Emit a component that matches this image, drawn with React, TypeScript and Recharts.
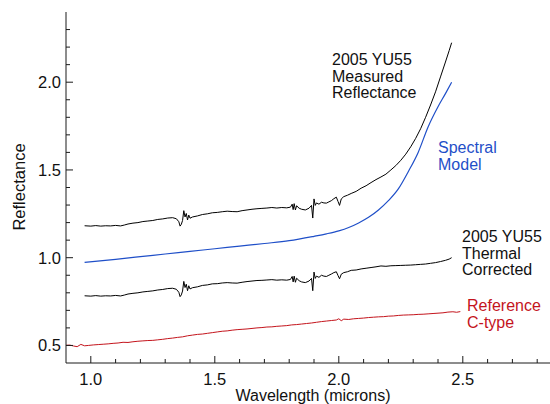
import { Line, LineChart, XAxis, YAxis } from "recharts";

// wavelength (microns) / reflectance
const measWl = [
  0.975, 1.0, 1.02, 1.04, 1.06, 1.08, 1.1, 1.12, 1.135, 1.15, 1.17, 1.19, 1.21, 1.23, 1.25, 1.27, 1.29, 1.31, 1.33,
  1.345, 1.355, 1.36, 1.365, 1.37, 1.375, 1.38, 1.385, 1.39, 1.395, 1.4, 1.41, 1.43, 1.45, 1.47, 1.49, 1.51, 1.53,
  1.55, 1.57, 1.59, 1.61, 1.63, 1.65, 1.67, 1.69, 1.71, 1.73, 1.75, 1.77, 1.79, 1.805, 1.812, 1.816, 1.82, 1.825,
  1.83, 1.84, 1.85, 1.865, 1.88, 1.89, 1.895, 1.9, 1.905, 1.91, 1.92, 1.93, 1.94, 1.95, 1.96, 1.97, 1.98, 1.99,
  1.997, 2.003, 2.01, 2.02, 2.035, 2.05, 2.07, 2.09, 2.11, 2.13, 2.15, 2.17, 2.19, 2.21, 2.23, 2.25, 2.27, 2.29,
  2.31, 2.33, 2.35, 2.37, 2.39, 2.41, 2.43, 2.445, 2.455,
];
const measuredR = [
  1.182, 1.18, 1.183, 1.18, 1.182, 1.181, 1.184, 1.181, 1.186, 1.192, 1.197, 1.2, 1.206, 1.209, 1.212, 1.218, 1.221,
  1.226, 1.228, 1.222, 1.205, 1.18, 1.19, 1.212, 1.268, 1.232, 1.252, 1.215, 1.243, 1.225, 1.232, 1.238, 1.246, 1.25,
  1.256, 1.258, 1.262, 1.265, 1.263, 1.262, 1.268, 1.272, 1.276, 1.279, 1.281, 1.283, 1.286, 1.283, 1.286, 1.284,
  1.288, 1.305, 1.274, 1.308, 1.272, 1.296, 1.282, 1.276, 1.272, 1.282, 1.298, 1.226, 1.335, 1.298, 1.312, 1.305,
  1.316, 1.312, 1.311, 1.318, 1.325, 1.336, 1.345, 1.32, 1.298, 1.335, 1.348, 1.356, 1.366, 1.378, 1.396, 1.41,
  1.428, 1.445, 1.46, 1.476, 1.5, 1.525, 1.555, 1.59, 1.632, 1.68, 1.735, 1.8, 1.87, 1.945, 2.03, 2.115, 2.18, 2.225,
];
const thermalR = [
  0.783, 0.781, 0.784, 0.781, 0.783, 0.782, 0.785, 0.782, 0.787, 0.793, 0.797, 0.8, 0.805, 0.808, 0.811, 0.816, 0.819,
  0.824, 0.826, 0.82, 0.803, 0.778, 0.788, 0.81, 0.865, 0.83, 0.849, 0.812, 0.84, 0.822, 0.829, 0.834, 0.842, 0.845,
  0.851, 0.852, 0.856, 0.858, 0.856, 0.855, 0.86, 0.864, 0.867, 0.87, 0.871, 0.873, 0.875, 0.872, 0.874, 0.872,
  0.876, 0.893, 0.862, 0.895, 0.86, 0.883, 0.869, 0.862, 0.858, 0.867, 0.882, 0.812, 0.918, 0.882, 0.895, 0.888,
  0.9, 0.895, 0.893, 0.9, 0.907, 0.915, 0.92, 0.898, 0.88, 0.906, 0.915, 0.92, 0.928, 0.93, 0.936, 0.94, 0.944,
  0.948, 0.953, 0.951, 0.954, 0.955, 0.956, 0.957, 0.958, 0.96, 0.962, 0.964, 0.968, 0.972, 0.978, 0.985, 0.992, 1.0,
];

const modelWl = [
  0.975, 1.1, 1.2, 1.3, 1.4, 1.5, 1.6, 1.7, 1.8, 1.9, 1.95, 2.0, 2.04, 2.08, 2.12, 2.16, 2.2, 2.24, 2.28, 2.32, 2.36,
  2.4, 2.43, 2.455,
];
const modelR = [
  0.973, 0.991, 1.006, 1.021, 1.036, 1.051, 1.066, 1.081, 1.097, 1.122, 1.136, 1.153, 1.172, 1.198, 1.23, 1.272,
  1.325, 1.392, 1.49, 1.6, 1.745, 1.86, 1.935, 2.0,
];

const refWl = [
  0.9, 0.915, 0.93, 0.945, 0.96, 0.975, 0.99, 1.01, 1.03, 1.05, 1.07, 1.09, 1.11, 1.13, 1.15, 1.17, 1.19, 1.21, 1.23,
  1.25, 1.27, 1.29, 1.31, 1.33, 1.35, 1.37, 1.39, 1.41, 1.43, 1.45, 1.47, 1.49, 1.51, 1.53, 1.55, 1.57, 1.59, 1.61,
  1.63, 1.65, 1.67, 1.69, 1.71, 1.73, 1.75, 1.77, 1.79, 1.81, 1.83, 1.85, 1.87, 1.89, 1.91, 1.93, 1.95, 1.97, 1.99,
  2.0, 2.01, 2.02, 2.04, 2.06, 2.08, 2.1, 2.12, 2.14, 2.16, 2.18, 2.2, 2.22, 2.24, 2.26, 2.28, 2.3, 2.32, 2.34, 2.36,
  2.38, 2.4, 2.42, 2.44, 2.46, 2.475, 2.49,
];
const refR = [
  0.501, 0.502, 0.497, 0.493, 0.506, 0.498, 0.5, 0.503, 0.505, 0.507, 0.509, 0.512, 0.514, 0.518, 0.517, 0.521, 0.524,
  0.526, 0.528, 0.529, 0.532, 0.535, 0.539, 0.542, 0.546, 0.549, 0.555, 0.559, 0.563, 0.565, 0.569, 0.573, 0.577,
  0.581, 0.583, 0.587, 0.59, 0.592, 0.594, 0.597, 0.6, 0.602, 0.605, 0.606, 0.609, 0.611, 0.613, 0.617, 0.619, 0.622,
  0.625, 0.628, 0.632, 0.636, 0.639, 0.642, 0.645, 0.652, 0.641, 0.65, 0.648, 0.652, 0.654, 0.656, 0.659, 0.661,
  0.663, 0.664, 0.667, 0.668, 0.671, 0.673, 0.674, 0.675, 0.677, 0.678, 0.68, 0.682, 0.684, 0.686, 0.69, 0.692,
  0.689, 0.693,
];

const xTicks = [1.0, 1.1, 1.2, 1.3, 1.4, 1.5, 1.6, 1.7, 1.8, 1.9, 2.0, 2.1, 2.2, 2.3, 2.4, 2.5, 2.6, 2.7, 2.8];
const yTicks = [0.5, 0.6, 0.7, 0.8, 0.9, 1.0, 1.1, 1.2, 1.3, 1.4, 1.5, 1.6, 1.7, 1.8, 1.9, 2.0, 2.1, 2.2, 2.3];

const toRows = (wl: number[], r: number[]) => wl.map((w, i) => ({ wl: w, r: r[i] }));

const measuredData = toRows(measWl, measuredR);
const thermalData = toRows(measWl, thermalR);
const modelData = toRows(modelWl, modelR);
const refData = toRows(refWl, refR);

const FONT = "'Liberation Sans', Arial, Helvetica, sans-serif";
const AXIS = "#1a1a1a";
const BLUE = "#1f4fc8";
const RED = "#c4141c";

const isMajor = (v: number) => Math.abs(v * 2 - Math.round(v * 2)) < 1e-6;

const LeftTick = ({ x, y, payload }: any) => {
  const major = isMajor(payload.value);
  return (
    <g>
      <line x1={x} x2={x + (major ? 7 : 4)} y1={y} y2={y} stroke={AXIS} />
      {major && (
        <text x={x - 5} y={y} dy={6} textAnchor="end" fontFamily={FONT} fontSize={16.5} fill="#111">
          {payload.value.toFixed(1)}
        </text>
      )}
    </g>
  );
};

const BottomTick = ({ x, y, payload }: any) => {
  const major = isMajor(payload.value);
  return (
    <g>
      <line x1={x} x2={x} y1={y} y2={y - (major ? 7 : 4)} stroke={AXIS} />
      {major && (
        <text x={x} y={y} dy={22} textAnchor="middle" fontFamily={FONT} fontSize={16.5} fill="#111">
          {payload.value.toFixed(1)}
        </text>
      )}
    </g>
  );
};

const TopTick = ({ x, y, payload }: any) => (
  <line x1={x} x2={x} y1={y} y2={y + (isMajor(payload.value) ? 7 : 4)} stroke={AXIS} />
);

export default function App() {
  return (
    <div style={{ position: "absolute", left: 0, top: 0, width: 550, height: 404, overflow: "hidden", background: "#fff" }}>
      <LineChart width={562} height={404} margin={{ top: 12, right: 0, left: 0, bottom: 0 }}>
        <XAxis
          xAxisId="bottom"
          type="number"
          dataKey="wl"
          domain={[0.9, 2.9]}
          ticks={xTicks}
          interval={0}
          height={41}
          tickSize={0}
          tickMargin={0}
          tickLine={false}
          tick={BottomTick}
          axisLine={{ stroke: AXIS }}
          allowDataOverflow
        />
        <XAxis
          xAxisId="top"
          orientation="top"
          type="number"
          dataKey="wl"
          domain={[0.9, 2.9]}
          ticks={xTicks}
          interval={0}
          height={0}
          tickSize={0}
          tickMargin={0}
          tickLine={false}
          tick={TopTick}
          axisLine={{ stroke: AXIS }}
          allowDataOverflow
        />
        <YAxis
          type="number"
          domain={[0.4, 2.4]}
          ticks={yTicks}
          interval={0}
          width={66}
          tickSize={0}
          tickMargin={0}
          tickLine={false}
          tick={LeftTick}
          axisLine={{ stroke: AXIS }}
          allowDataOverflow
        />
        <Line
          xAxisId="bottom"
          data={refData}
          dataKey="r"
          type="linear"
          stroke={RED}
          strokeWidth={1}
          dot={false}
          isAnimationActive={false}
        />
        <Line
          xAxisId="bottom"
          data={thermalData}
          dataKey="r"
          type="linear"
          stroke="#000"
          strokeWidth={1}
          dot={false}
          isAnimationActive={false}
        />
        <Line
          xAxisId="bottom"
          data={modelData}
          dataKey="r"
          type="monotone"
          stroke={BLUE}
          strokeWidth={1.2}
          dot={false}
          isAnimationActive={false}
        />
        <Line
          xAxisId="bottom"
          data={measuredData}
          dataKey="r"
          type="linear"
          stroke="#000"
          strokeWidth={1}
          dot={false}
          isAnimationActive={false}
        />
      </LineChart>
      <svg
        width={550}
        height={404}
        style={{ position: "absolute", left: 0, top: 0, pointerEvents: "none" }}
        fontFamily={FONT}
      >
        <text transform="translate(25,187) rotate(-90)" textAnchor="middle" fontSize={16.5} fill="#111">
          Reflectance
        </text>
        <text x={313} y={400.5} textAnchor="middle" fontSize={16} fill="#111">
          Wavelength (microns)
        </text>
        <text x={332} y={65} fontSize={16} fill="#111">
          <tspan x={332}>2005 YU55</tspan>
          <tspan x={332} dy={16.7}>Measured</tspan>
          <tspan x={332} dy={16.7}>Reflectance</tspan>
        </text>
        <text x={438} y={153} fontSize={16} fill={BLUE}>
          <tspan x={438}>Spectral</tspan>
          <tspan x={438} dy={17}>Model</tspan>
        </text>
        <text x={462} y={242} fontSize={16} fill="#111">
          <tspan x={462}>2005 YU55</tspan>
          <tspan x={462} dy={16.7}>Thermal</tspan>
          <tspan x={462} dy={16.7}>Corrected</tspan>
        </text>
        <text x={467} y={311} fontSize={16} fill={RED}>
          <tspan x={467}>Reference</tspan>
          <tspan x={467} dy={17}>C-type</tspan>
        </text>
      </svg>
    </div>
  );
}
